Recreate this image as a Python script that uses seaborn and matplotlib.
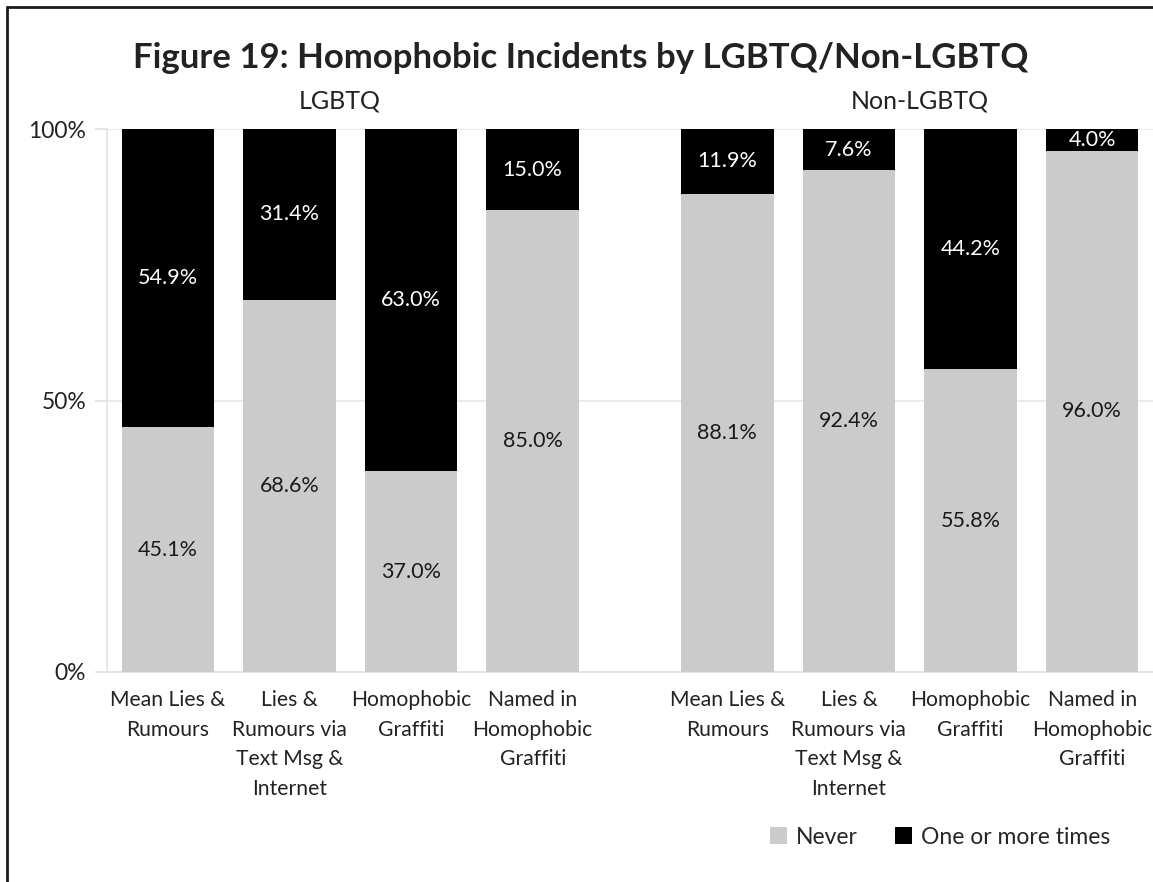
import matplotlib
matplotlib.use("Agg")
import matplotlib.pyplot as plt
import seaborn as sns
import pandas as pd
from matplotlib.patches import Patch
from matplotlib.lines import Line2D

# ---- data ----
groups = ["LGBTQ", "Non-LGBTQ"]
categories = ["Mean Lies &\nRumours",
              "Lies &\nRumours via\nText Msg &\nInternet",
              "Homophobic\nGraffiti",
              "Named in\nHomophobic\nGraffiti"]
never_lgbtq = [45.1, 68.6, 37.0, 85.0]
once_lgbtq = [54.9, 31.4, 63.0, 15.0]
never_non = [88.1, 92.4, 55.8, 96.0]
once_non = [11.9, 7.6, 44.2, 4.0]
yticks = [0, 50, 100]
ytick_labels = ["0%", "50%", "100%"]
series_names = ["Never", "One or more times"]

sns.set_theme(style="white")
plt.rcParams["font.family"] = ["Lato", "DejaVu Sans"]

GRAY = "#cbcbcb"
BLACK = "#000000"
GAP = 0.6

rows = []
for g, (nv, on) in enumerate([(never_lgbtq, once_lgbtq), (never_non, once_non)]):
    for i, cat in enumerate(categories):
        rows.append({"group": groups[g], "cat": cat, "pos": i + g * (len(categories) + GAP),
                     "never": nv[i], "once": on[i], "total": nv[i] + on[i]})
df = pd.DataFrame(rows)

fig = plt.figure(figsize=(11.53, 8.82), dpi=100)
ax = fig.add_axes([107 / 1153, 1 - 672 / 882, 1 - 107 / 1153, (672 - 129) / 882])

sns.barplot(data=df, x="pos", y="total", native_scale=True, orient="x",
            color=BLACK, saturation=1, width=0.76, ax=ax, linewidth=0, zorder=2)
sns.barplot(data=df, x="pos", y="never", native_scale=True, orient="x",
            color=GRAY, saturation=1, width=0.76, ax=ax, linewidth=0, zorder=3)

for _, r in df.iterrows():
    ax.text(r["pos"], r["never"] / 2, f"{r['never']:.1f}%", ha="center", va="center",
            fontsize=15.5, color="#1a1a1a", zorder=5)
    ax.text(r["pos"], r["never"] + r["once"] / 2, f"{r['once']:.1f}%", ha="center", va="center",
            fontsize=15.5, color="white", zorder=5)

ax.set_ylim(0, 100)
ax.set_xlim(-0.5, df["pos"].max() + 0.5)
ax.set_yticks(yticks)
ax.set_yticklabels(ytick_labels, fontsize=16.5, color="#222222")
ax.set_xticks(df["pos"])
ax.set_xticklabels(list(categories) * 2, fontsize=15.2, color="#222222",
                   linespacing=1.6, va="top")
ax.tick_params(axis="x", length=0, pad=13)
ax.tick_params(axis="y", length=9, color="#e2e2e2", width=1.2, pad=6, left=True)
ax.yaxis.grid(True, color="#e6e6e6", linewidth=1.2, zorder=0)
ax.set_axisbelow(True)
for s in ["top", "right"]:
    ax.spines[s].set_visible(False)
for s in ["left", "bottom"]:
    ax.spines[s].set_color("#e2e2e2")
    ax.spines[s].set_linewidth(1.2)
ax.set_xlabel("")
ax.set_ylabel("")

# group headers
header_shift = [-0.09, 0.08]
for g, name in enumerate(groups):
    sub = df[df["group"] == name]
    xc = (sub["pos"].min() + sub["pos"].max()) / 2 + header_shift[g]
    ax.text(xc, 103, name, ha="center", va="bottom", fontsize=18, color="#222222",
            transform=ax.transData, clip_on=False)

fig.text(0.504, 1 - 58 / 882, "Figure 19: Homophobic Incidents by LGBTQ/Non-LGBTQ",
         ha="center", va="center", fontsize=25, fontweight="bold", color="#222222")

handles = [Patch(facecolor=GRAY, edgecolor="none"), Patch(facecolor=BLACK, edgecolor="none")]
fig.legend(handles, series_names, loc="center", bbox_to_anchor=(940 / 1153, 1 - 837 / 882),
           ncol=2, frameon=False, fontsize=16.5, handlelength=0.75, handleheight=0.75,
           handletextpad=0.4, columnspacing=1.6)

# border
fig.add_artist(Line2D([7 / 1153, 1.0], [1 - 7 / 882, 1 - 7 / 882], color="#1a1a1a", linewidth=2,
                      transform=fig.transFigure))
fig.add_artist(Line2D([7 / 1153, 7 / 1153], [0, 1 - 7 / 882], color="#1a1a1a", linewidth=2,
                      transform=fig.transFigure))

fig.savefig("out.png", dpi=100)
